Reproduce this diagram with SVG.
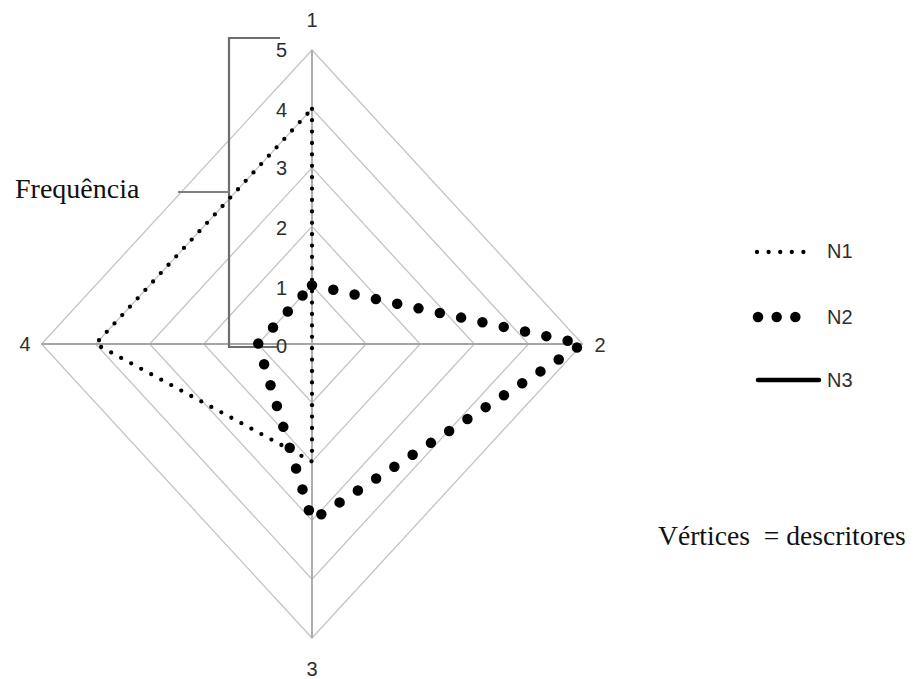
<svg xmlns="http://www.w3.org/2000/svg" width="915" height="679" viewBox="0 0 915 679">
<style>
.grid{fill:none;stroke:#c4c4c4;stroke-width:1.3}
.axis{stroke:#a6a6a6;stroke-width:1.8;fill:none}
.brk{fill:none;stroke:#6e6e6e;stroke-width:2.2}
.n1{fill:none;stroke:#000;stroke-width:4.3;stroke-linecap:round;stroke-dasharray:0 11.4}
.n2{fill:none;stroke:#000;stroke-width:10.5;stroke-linecap:round;stroke-dasharray:0 21.8}
.n3{fill:none;stroke:#000;stroke-width:4.5;stroke-linecap:round}
.lab{font-family:"Liberation Sans",Arial,sans-serif;font-size:20px;fill:#2e2e2e}
.ser{font-family:"Liberation Serif","Times New Roman",serif;font-size:28px;fill:#111;white-space:pre}
</style>
<rect width="915" height="679" fill="#ffffff"/>
<g id="grid">
<polygon class="grid" points="312,285.2 366.1,344 312,402.8 257.9,344"/>
<polygon class="grid" points="312,226.4 420.2,344 312,461.6 203.8,344"/>
<polygon class="grid" points="312,167.6 474.3,344 312,520.4 149.7,344"/>
<polygon class="grid" points="312,108.8 528.4,344 312,579.2 95.6,344"/>
<polygon class="grid" points="312,50 582.5,344 312,638 41.5,344"/>
</g>
<g id="axes">
<line class="axis" x1="312" y1="344" x2="312" y2="50"/>
<line class="axis" x1="312" y1="344" x2="582.5" y2="344"/>
<line class="axis" x1="312" y1="344" x2="312" y2="638"/>
<line class="axis" x1="312" y1="344" x2="41.5" y2="344"/>
</g>
<g id="frequencia-bracket">
<polyline class="brk" points="280,38 229,38 229,347 277,347"/>
<line x1="178" y1="192" x2="229" y2="192" stroke="#808080" stroke-width="2.2"/>
<text class="ser" x="15" y="198">Frequência</text>
</g>
<g id="connectors">
<path id="series-N1" class="n1" d="M312,108.8 L312,344 L312,461.6 L95.6,344 Z"/>
<path id="series-N2" class="n2" d="M312,285.2 L582.5,344 L312,520.4 L257.9,344 Z"/>
</g>
<g id="tick-labels" class="lab" text-anchor="end">
<text x="287" y="57">5</text>
<text x="287" y="117">4</text>
<text x="287" y="175">3</text>
<text x="287" y="235">2</text>
<text x="287" y="295">1</text>
<text x="287" y="353">0</text>
</g>
<g id="vertex-labels" class="lab" text-anchor="middle">
<text id="v1" x="312" y="27">1</text>
<text id="v2" x="600" y="352">2</text>
<text id="v3" x="312" y="676">3</text>
<text id="v4" x="25" y="351">4</text>
</g>
<g id="legend">
<g id="legend-N1">
<line class="n1" x1="757" y1="252" x2="815" y2="252" style="stroke-dasharray:0 11.6"/>
<text class="lab" x="827" y="258">N1</text>
</g>
<g id="legend-N2">
<line class="n2" x1="758" y1="317" x2="814" y2="317" style="stroke-dasharray:0 18.67"/>
<text class="lab" x="827" y="324">N2</text>
</g>
<g id="legend-N3">
<line class="n3" x1="758" y1="380" x2="819" y2="380"/>
<text class="lab" x="827" y="387">N3</text>
</g>
</g>
<text id="note" class="ser" x="658" y="545" style="font-size:27.6px">Vértices  = descritores</text>
</svg>
